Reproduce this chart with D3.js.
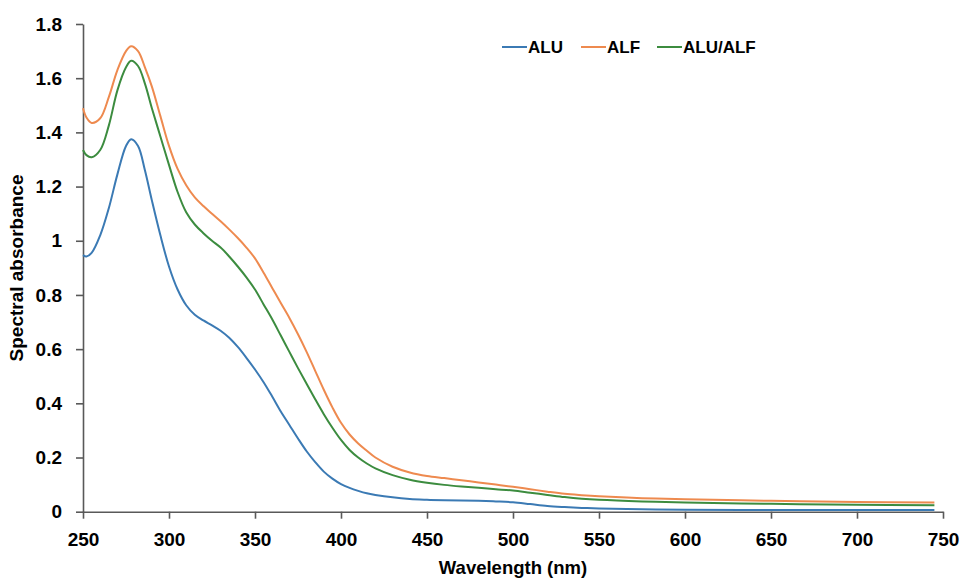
<!DOCTYPE html>
<html>
  <head>
    <title>Spectral absorbance</title>
    <script src="https://d3js.org/d3.v7.min.js"></script>
    <style>
      body { margin: 0; background: #fff; }
      text { font-family: "Liberation Sans", Arial, sans-serif; font-weight: bold; fill: #000; }
    </style>
  </head>
  <body>
    <svg width="962" height="580"></svg>
    <script type="text/javascript">
      // wavelengths (nm) at which the curves were read
      var wavelength = [250, 252, 255, 260, 265, 270, 275, 278, 282, 286, 290, 295, 300, 305, 310, 315, 320, 325,
        330, 335, 340, 345, 350, 355, 360, 365, 370, 375, 380, 385, 390, 395, 400, 405, 410, 415, 420, 430,
        440, 450, 460, 470, 480, 490, 500, 510, 520, 530, 540, 550, 575, 600, 650, 700, 745];

      var alu = [0.947, 0.942, 0.955, 1.02, 1.12, 1.245, 1.35, 1.375, 1.35, 1.26, 1.15, 1.02, 0.905, 0.82, 0.762, 0.727, 0.706, 0.688,
        0.668, 0.642, 0.608, 0.568, 0.525, 0.478, 0.425, 0.37, 0.32, 0.27, 0.223, 0.183, 0.148, 0.122, 0.102, 0.088, 0.077, 0.068, 0.062, 0.053,
        0.047, 0.044, 0.042, 0.041, 0.04, 0.038, 0.035, 0.028, 0.021, 0.017, 0.014, 0.012, 0.009, 0.007, 0.006, 0.006, 0.006];

      var alf = [1.489, 1.455, 1.435, 1.452, 1.53, 1.63, 1.70, 1.718, 1.70, 1.64, 1.57, 1.46, 1.35, 1.265, 1.205, 1.16, 1.128, 1.10,
        1.072, 1.042, 1.01, 0.975, 0.935, 0.882, 0.826, 0.77, 0.715, 0.655, 0.59, 0.52, 0.45, 0.385, 0.328, 0.285, 0.252, 0.225, 0.20, 0.166,
        0.145, 0.132, 0.124, 0.116, 0.108, 0.10, 0.092, 0.083, 0.074, 0.066, 0.061, 0.057, 0.05, 0.046, 0.04, 0.036, 0.034];

      var aluAlf = [1.335, 1.316, 1.308, 1.335, 1.425, 1.555, 1.64, 1.664, 1.645, 1.58, 1.49, 1.385, 1.28, 1.18, 1.105, 1.06, 1.028, 1.0,
        0.975, 0.942, 0.905, 0.865, 0.82, 0.765, 0.71, 0.65, 0.59, 0.53, 0.472, 0.415, 0.36, 0.31, 0.265, 0.228, 0.20, 0.178, 0.16, 0.135,
        0.118, 0.107, 0.099, 0.093, 0.088, 0.083, 0.078, 0.07, 0.062, 0.054, 0.048, 0.044, 0.038, 0.034, 0.029, 0.026, 0.024];

      var seriesNames = ["ALU", "ALF", "ALU/ALF"];
      var colors = ["#3b7ab4", "#ee8a4f", "#3c8c3f"];
      var xTicks = [250, 300, 350, 400, 450, 500, 550, 600, 650, 700, 750];
      var yTicks = [0, 0.2, 0.4, 0.6, 0.8, 1, 1.2, 1.4, 1.6, 1.8];

      var svg = d3.select("svg");

      var x = d3.scaleLinear().domain([250, 750]).range([83, 943]);
      var y = d3.scaleLinear().domain([0, 1.8]).range([511.7, 24]);

      // axes
      var xAxis = svg.append("g")
        .attr("transform", "translate(0," + y(0) + ")")
        .call(d3.axisBottom(x).tickValues(xTicks).tickFormat(d3.format("d")).tickSize(7).tickPadding(14).tickSizeOuter(0));

      var yAxis = svg.append("g")
        .attr("transform", "translate(" + x(250) + ",0)")
        .call(d3.axisLeft(y).tickValues(yTicks).tickFormat(function(d) { return d3.format("")(+d.toFixed(1)); })
          .tickSize(7).tickPadding(14).tickSizeOuter(0));

      [xAxis, yAxis].forEach(function(a) {
        a.select(".domain").attr("stroke", "#595959").attr("stroke-width", 1.6);
        a.selectAll(".tick line").attr("stroke", "#595959").attr("stroke-width", 1.6);
        a.selectAll(".tick text").style("font-size", "19px").attr("fill", "#111");
      });

      // curves
      var series = [alu, alf, aluAlf];
      var line = d3.line()
        .x(function(d) { return x(d[0]); })
        .y(function(d) { return y(d[1]); })
        .curve(d3.curveCatmullRom.alpha(0.5));

      series.forEach(function(vals, i) {
        svg.append("path")
          .datum(wavelength.map(function(w, j) { return [w, vals[j]]; }))
          .attr("fill", "none")
          .attr("stroke", colors[i])
          .attr("stroke-width", 2)
          .attr("d", line);
      });

      // legend
      var legendX = [502, 581, 657];
      var legend = svg.selectAll(".legend")
        .data(seriesNames)
        .enter().append("g")
        .attr("transform", function(d, i) { return "translate(" + legendX[i] + ",47)"; });

      legend.append("line")
        .attr("x1", 0).attr("x2", 25)
        .attr("y1", 0).attr("y2", 0)
        .attr("stroke", function(d, i) { return colors[i]; })
        .attr("stroke-width", 2);

      legend.append("text")
        .attr("x", 26)
        .attr("y", 6)
        .style("font-size", "17px")
        .text(function(d) { return d; });

      // axis titles
      svg.append("text")
        .attr("x", 513)
        .attr("y", 574)
        .attr("text-anchor", "middle")
        .style("font-size", "18.5px")
        .text("Wavelength (nm)");

      svg.append("text")
        .attr("transform", "translate(23,268) rotate(-90)")
        .attr("text-anchor", "middle")
        .style("font-size", "19px")
        .text("Spectral absorbance");
    </script>
  </body>
</html>
